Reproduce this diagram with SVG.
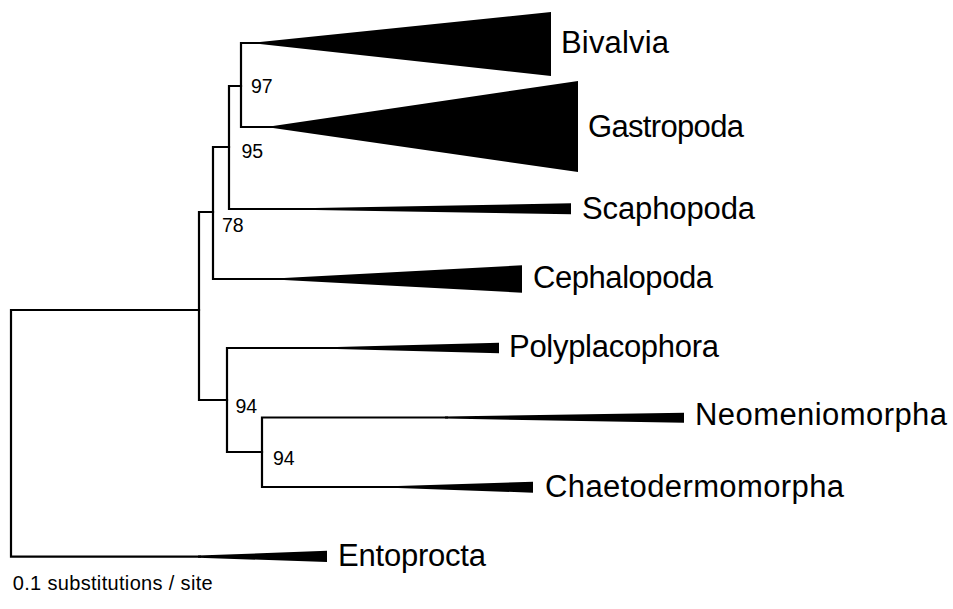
<svg xmlns="http://www.w3.org/2000/svg" width="953" height="609" viewBox="0 0 953 609">
<style>
.br{fill:none;stroke:#000;stroke-width:2.2;stroke-linecap:square;stroke-linejoin:miter}
.tri{fill:#000;stroke:none}
.lab{font-family:"Liberation Sans",Arial,sans-serif;font-size:31px;fill:#000}
.bs{font-family:"Liberation Sans",Arial,sans-serif;font-size:19.5px;fill:#000}
.sc{font-family:"Liberation Sans",Arial,sans-serif;font-size:20px;fill:#000}
</style>
<rect width="953" height="609" fill="#fff"/>
<g id="connectors">
<path class="br" d="M199,310 H11 V556.7 H200"/>
<path class="br" d="M213,212 H199 V400 H227"/>
<path class="br" d="M229,147 H213 V279 H286"/>
<path class="br" d="M241,86 H229 V209 H317"/>
<path class="br" d="M262,43 H241 V127 H275"/>
<path class="br" d="M339,348 H227 V452 H262"/>
<path class="br" d="M447,417.5 H262 V487 H400"/>
</g>
<g id="Bivalvia"><polygon class="tri" points="260,41.9 551,12 551,76 260,44.1"/><text class="lab" x="561" y="53" textLength="108" lengthAdjust="spacing">Bivalvia</text></g>
<g id="Gastropoda"><polygon class="tri" points="273,125.9 578,81 578,172 273,128.1"/><text class="lab" x="588" y="137" textLength="156" lengthAdjust="spacing">Gastropoda</text></g>
<g id="Scaphopoda"><polygon class="tri" points="315,207.9 571,203.3 571,214.3 315,210.1"/><text class="lab" x="582" y="219" textLength="173" lengthAdjust="spacing">Scaphopoda</text></g>
<g id="Cephalopoda"><polygon class="tri" points="284,277.9 522,265.3 522,292.7 284,280.1"/><text class="lab" x="533" y="288" textLength="180" lengthAdjust="spacing">Cephalopoda</text></g>
<g id="Polyplacophora"><polygon class="tri" points="337,346.9 499,342.7 499,353.3 337,349.1"/><text class="lab" x="509" y="357" textLength="210" lengthAdjust="spacing">Polyplacophora</text></g>
<g id="Neomeniomorpha"><polygon class="tri" points="445,416.4 684,412.7 684,422.7 445,418.6"/><text class="lab" x="695" y="424.5" textLength="252" lengthAdjust="spacing">Neomeniomorpha</text></g>
<g id="Chaetodermomorpha"><polygon class="tri" points="398,485.9 533,481.7 533,492.7 398,488.1"/><text class="lab" x="545" y="497" textLength="299" lengthAdjust="spacing">Chaetodermomorpha</text></g>
<g id="Entoprocta"><polygon class="tri" points="198,555.6 327,550.7 327,562 198,557.8"/><text class="lab" x="338" y="566" textLength="148" lengthAdjust="spacing">Entoprocta</text></g>
<g id="support">
<text class="bs" x="251" y="93.3">97</text>
<text class="bs" x="241.5" y="158.3">95</text>
<text class="bs" x="222" y="231.7">78</text>
<text class="bs" x="235.5" y="413.3">94</text>
<text class="bs" x="273" y="464.5">94</text>
</g>
<g id="scale"><text class="sc" x="12.7" y="590" textLength="200" lengthAdjust="spacing">0.1 substitutions / site</text></g>
</svg>
